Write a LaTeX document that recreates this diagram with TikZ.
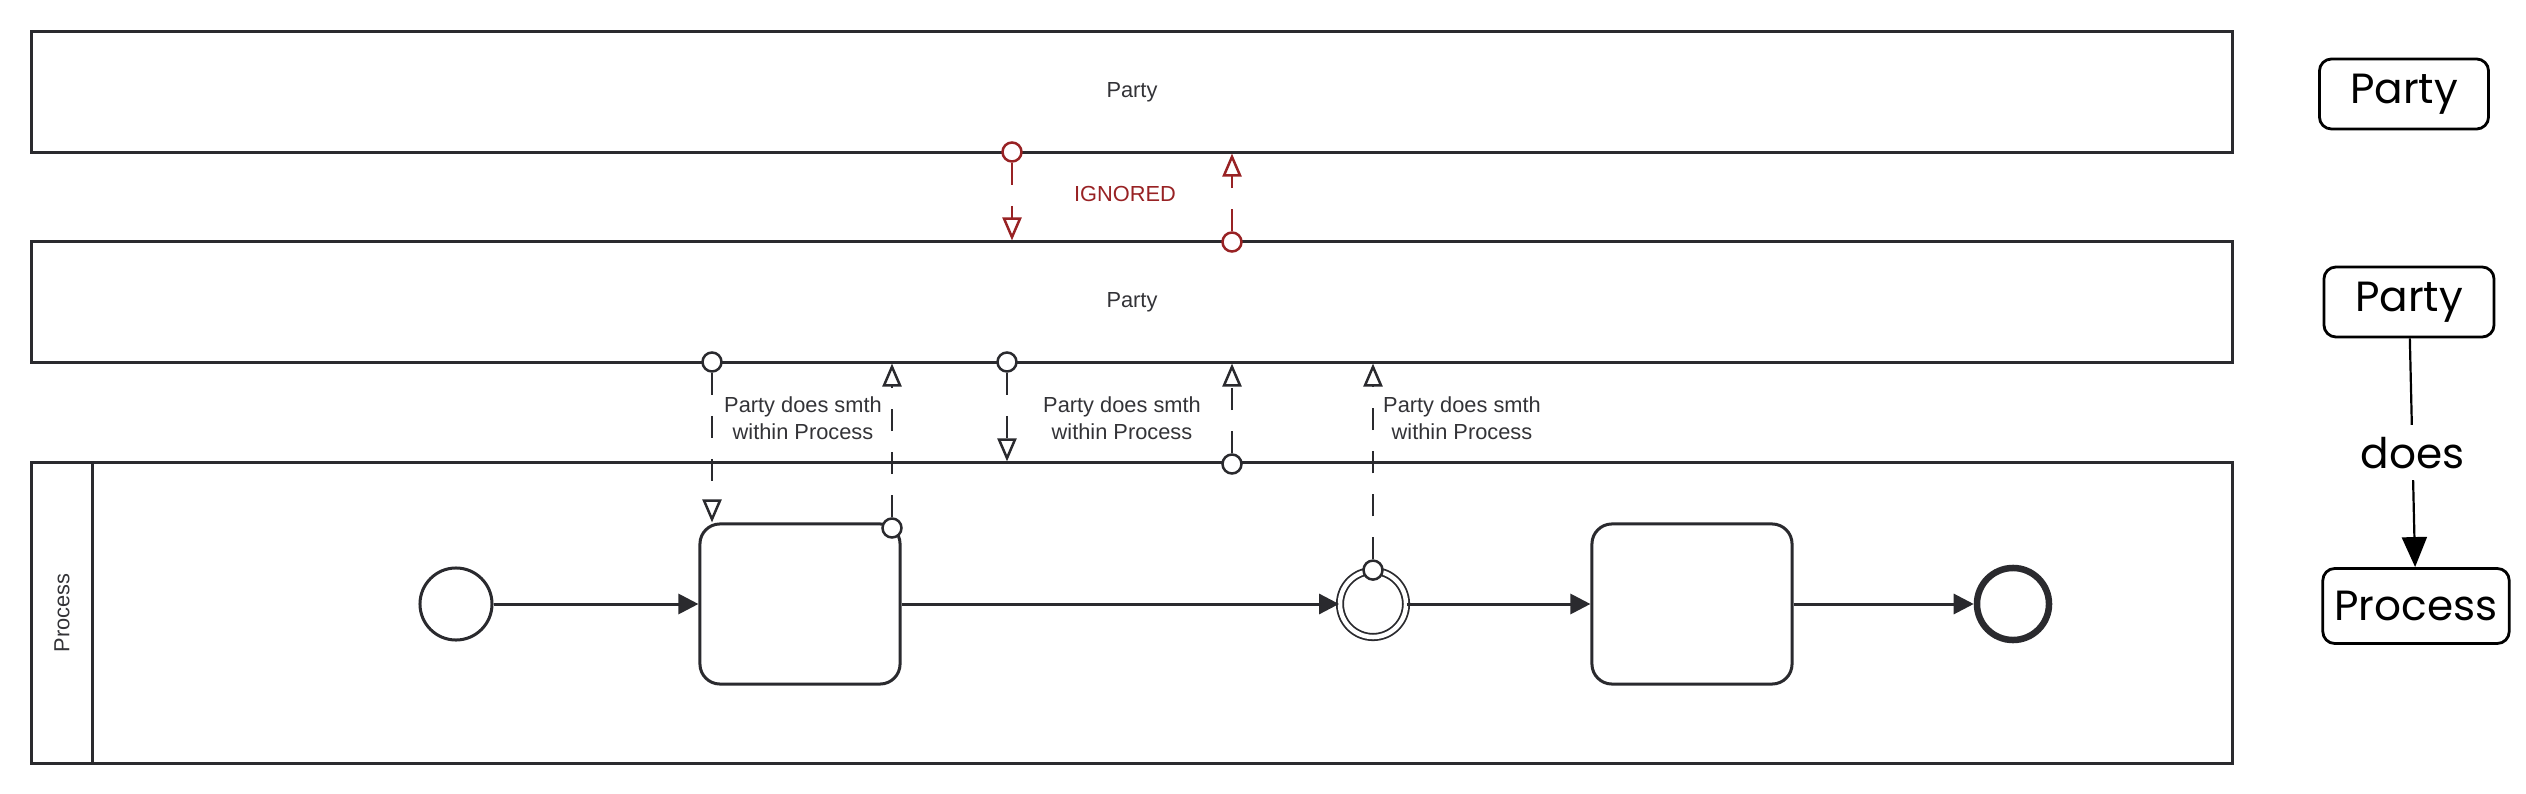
\documentclass[tikz,border=0pt]{standalone}
\usepackage{fontspec}
\setmainfont{Liberation Sans}
\newfontfamily\sketchfont{Poppins}
\usetikzlibrary{arrows.meta, positioning, shapes.geometric}
\definecolor{bpmnline}{RGB}{42,42,46}
\definecolor{bpmntext}{RGB}{51,51,55}
\definecolor{ignoredred}{RGB}{152,34,36}
\tikzstyle{pool} = [rectangle, draw=bpmnline, line width=0.03cm, minimum width=22cm, minimum height=1.2cm, inner sep=0pt, text=bpmntext, font=\fontsize{6.2}{7.6}\selectfont]
\tikzstyle{task} = [rectangle, rounded corners=0.2cm, draw=bpmnline, fill=white, line width=0.03cm, minimum width=2cm, minimum height=1.6cm]
\tikzstyle{start_event} = [circle, draw=bpmnline, fill=white, line width=0.03cm, minimum size=0.72cm, inner sep=0pt]
\tikzstyle{end_event} = [circle, draw=bpmnline, fill=white, line width=0.065cm, minimum size=0.72cm, inner sep=0pt]
\tikzstyle{intermediate_event} = [circle, draw=bpmnline, double, line width=0.018cm, double distance=0.045cm, minimum size=0.66cm, inner sep=0pt]
\tikzstyle{attached} = [circle, draw=bpmnline, fill=white, line width=0.025cm, minimum size=0.19cm, inner sep=0pt]
\tikzstyle{ignored_attached} = [attached, draw=ignoredred]
\tikzstyle{flow_label} = [align=center, text=bpmntext, font=\fontsize{6.2}{7.6}\selectfont]
\tikzstyle{sequence_flow} = [line width=0.03cm, bpmnline, -{Triangle[length=0.2cm, width=0.2cm]}]
\tikzstyle{message_flow} = [line width=0.025cm, bpmnline, dash pattern=on 0.22cm off 0.21cm, -{Triangle[open, length=0.23cm, width=0.19cm]}]
\tikzstyle{ignored_message} = [message_flow, ignoredred]
\tikzstyle{sketch_box} = [rectangle, rounded corners=0.12cm, draw=black, line width=0.028cm, minimum height=0.7cm, font=\sketchfont\fontsize{12}{14}\selectfont]
\tikzstyle{sketch_arrow} = [line width=0.022cm, black, -{Triangle[length=0.3cm, width=0.25cm]}]
\begin{document}
\begin{tikzpicture}[x=0.01cm, y=-0.01cm]

    \useasboundingbox (0,0) rectangle (2526,794);

    % Pools
    \node (party_top) [pool] at (1132,92) {Party};
    \node (party) [pool] at (1132,302) {Party};
    \node (process) [pool, minimum height=3cm] at (1132,613) {};
    \node (process_head) [pool, minimum width=3cm, minimum height=0.6cm, rotate=90] at (62,613) {Process};

    % Process content
    \node (start) [start_event] at (456,604) {};
    \node (task_a) [task] at (800,604) {};
    \node (catch) [intermediate_event] at (1373,604) {};
    \node (task_b) [task] at (1692,604) {};
    \node (end) [end_event] at (2013,604) {};

    \draw [sequence_flow] (start) -- (task_a);
    \draw [sequence_flow] (task_a) -- (catch);
    \draw [sequence_flow] (catch) -- (task_b);
    \draw [sequence_flow] (task_b) -- (end);

    \node (task_a_hook) [attached] at (892,528) {};
    \node (catch_hook) [attached] at (catch.north) {};

    % Message flows
    \node (ign_down) [ignored_attached] at (1012,152) {};
    \node (ign_up) [ignored_attached] at (1232,242) {};
    \node (msg_a) [attached] at (712,362) {};
    \node (msg_b) [attached] at (1007,362) {};
    \node (msg_c) [attached] at (1232,464) {};

    \draw [ignored_message] (ign_down) -- (ign_down |- party.north);
    \draw [ignored_message] (ign_up) -- (ign_up |- party_top.south);
    \node (ignored) [flow_label, text=ignoredred] at (1125,194) {IGNORED};

    \draw [message_flow] (msg_a) -- (msg_a |- task_a.north);
    \draw [message_flow] (task_a_hook) -- (task_a_hook |- party.south);
    \draw [message_flow] (msg_b) -- (msg_b |- process.north);
    \draw [message_flow] (msg_c) -- (msg_c |- party.south);
    \draw [message_flow] (catch_hook) -- (catch_hook |- party.south);

    \node (note_a) [flow_label] at (803,418) {Party does smth\\within Process};
    \node (note_b) [flow_label] at (1122,418) {Party does smth\\within Process};
    \node (note_c) [flow_label] at (1462,418) {Party does smth\\within Process};

    % Sketch on the right
    \node (legend_party_top) [sketch_box, minimum width=1.69cm] at (2404,94) {Party};
    \node (legend_party) [sketch_box, minimum width=1.70cm] at (2409,302) {Party};
    \node (legend_process) [sketch_box, minimum width=1.81cm, minimum height=0.75cm] at (2416,606) {Process};
    \draw [sketch_arrow] (legend_party) -- node [fill=white, font=\sketchfont\fontsize{12}{14}\selectfont] (does) {does} (legend_process);

\end{tikzpicture}
\end{document}
